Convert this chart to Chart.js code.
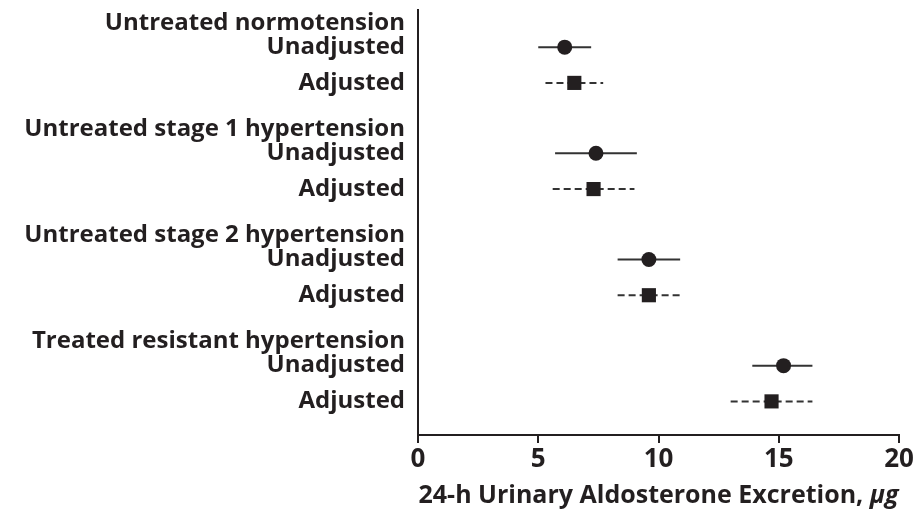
<!DOCTYPE html>
<html>
<head>
<meta charset="utf-8">
<script src="https://cdn.jsdelivr.net/npm/chart.js@4.4.1/dist/chart.umd.min.js"></script>
<style>
  html, body { margin: 0; padding: 0; background: #fff; }
  #wrap { width: 920px; height: 510px; }
</style>
</head>
<body>
<div id="wrap"><canvas id="forestChart"></canvas></div>
<script>
// groups (header rows) and the estimates
const groups = ['Untreated normotension', 'Untreated stage 1 hypertension', 'Untreated stage 2 hypertension', 'Treated resistant hypertension'];
const unadjMean = [6.1, 7.4, 9.6, 15.2];
const unadjLow = [5.0, 5.7, 8.3, 13.9];
const unadjHigh = [7.2, 9.1, 10.9, 16.4];
const adjMean = [6.5, 7.3, 9.6, 14.7];
const adjLow = [5.3, 5.6, 8.3, 13.0];
const adjHigh = [7.7, 9.0, 10.9, 16.4];
const xTicks = [0, 5, 10, 15, 20];
const xTitle = '24-h Urinary Aldosterone Excretion, ';
const xUnit = 'μg';

// row positions on the (reversed) y axis
const headerRow = [0, 3, 6, 9];
const unadjRow = headerRow.map(r => r + 0.68);
const adjRow = headerRow.map(r => r + 1.69);

const ink = '#231f20';
const labelFont = { family: 'Open Sans', weight: 'bold', size: 24 };

// y tick list: header, Unadjusted, Adjusted for each group
const rowTicks = [];
groups.forEach((g, i) => {
    rowTicks.push({ value: headerRow[i], label: g });
    rowTicks.push({ value: unadjRow[i], label: 'Unadjusted' });
    rowTicks.push({ value: adjRow[i], label: 'Adjusted' });
});

const datasets = [];

// markers first so they draw on top
datasets.push({
    label: 'Unadjusted',
    data: unadjMean.map((v, i) => ({ x: v, y: unadjRow[i] })),
    pointStyle: 'circle',
    pointRadius: 7.5,
    backgroundColor: ink,
    borderColor: ink,
    borderWidth: 0,
    order: 0
});
datasets.push({
    label: 'Adjusted',
    data: adjMean.map((v, i) => ({ x: v, y: adjRow[i] })),
    pointStyle: 'rect',
    pointRadius: 10,
    backgroundColor: ink,
    borderColor: ink,
    borderWidth: 0,
    order: 0
});

// confidence interval whiskers
groups.forEach((g, i) => {
    datasets.push({
        data: [{ x: unadjLow[i], y: unadjRow[i] }, { x: unadjHigh[i], y: unadjRow[i] }],
        showLine: true,
        pointRadius: 0,
        borderColor: '#333',
        borderWidth: 2,
        order: 1
    });
    datasets.push({
        data: [{ x: adjLow[i], y: adjRow[i] }, { x: adjHigh[i], y: adjRow[i] }],
        showLine: true,
        pointRadius: 0,
        borderColor: '#333',
        borderWidth: 2,
        borderDash: [7, 4],
        order: 1
    });
});

// x title with italic unit, drawn under the x axis
const xTitlePlugin = {
    id: 'xTitle',
    afterDraw(chart) {
        const ctx = chart.ctx;
        const area = chart.chartArea;
        const bold = "bold 25px 'Open Sans'";
        const boldItalic = "italic bold 25px 'Open Sans'";
        ctx.save();
        ctx.fillStyle = ink;
        ctx.textBaseline = 'alphabetic';
        ctx.font = bold;
        const w1 = ctx.measureText(xTitle).width;
        ctx.font = boldItalic;
        const w2 = ctx.measureText(xUnit).width;
        const x0 = (area.left + area.right) / 2 - (w1 + w2) / 2;
        ctx.font = bold;
        ctx.fillText(xTitle, x0, 503);
        ctx.font = boldItalic;
        ctx.fillText(xUnit, x0 + w1, 503);
        ctx.restore();
    }
};

new Chart(document.getElementById('forestChart'), {
    type: 'scatter',
    data: { datasets: datasets },
    plugins: [xTitlePlugin],
    options: {
        responsive: true,
        maintainAspectRatio: false,
        animation: false,
        layout: { padding: { top: 10, right: 21, left: 0, bottom: 0 } },
        plugins: {
            legend: { display: false },
            tooltip: { enabled: false }
        },
        scales: {
            x: {
                type: 'linear',
                min: 0,
                max: 20,
                afterBuildTicks: (axis) => { axis.ticks = xTicks.map(v => ({ value: v })); },
                afterFit: (scale) => { scale.height = 75; },
                grid: { drawOnChartArea: false, drawTicks: true, tickLength: 8, color: ink, lineWidth: 2 },
                border: { display: true, color: ink, width: 2 },
                ticks: { color: ink, font: { family: 'Open Sans', weight: 'bold', size: 26 }, padding: 1 }
            },
            y: {
                type: 'linear',
                reverse: true,
                min: -0.37,
                max: 11.64,
                afterBuildTicks: (axis) => { axis.ticks = rowTicks.map(t => ({ value: t.value })); },
                afterFit: (scale) => {
                    scale.width = 418;
                    // labels sit inside the range, no extra room needed
                    scale.paddingTop = 0;
                    scale.paddingBottom = 0;
                },
                grid: { display: true, drawOnChartArea: false, drawTicks: false },
                border: { display: true, color: ink, width: 2 },
                ticks: {
                    color: ink,
                    font: labelFont,
                    padding: 13,
                    autoSkip: false,
                    callback: function(value) {
                        const t = rowTicks.find(r => Math.abs(r.value - value) < 0.001);
                        return t ? t.label : '';
                    }
                }
            }
        }
    }
});
</script>
</body>
</html>
